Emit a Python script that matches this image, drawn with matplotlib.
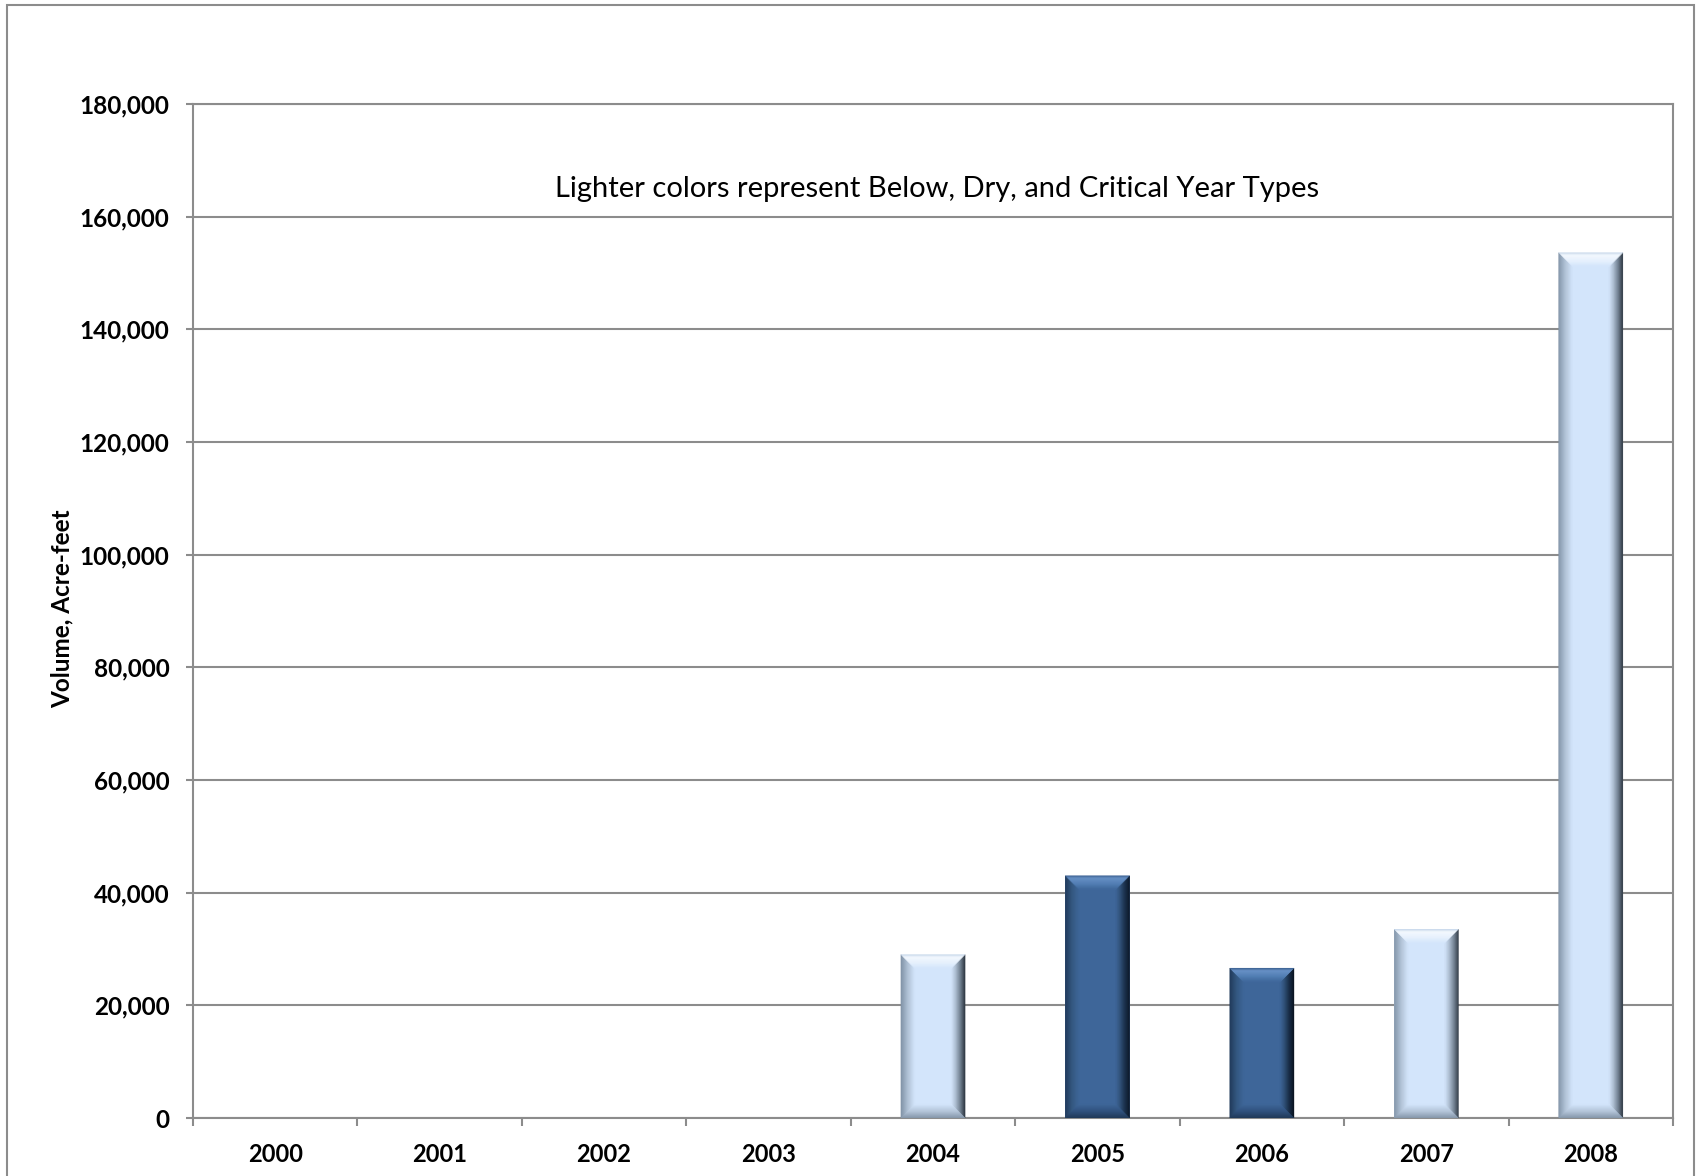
import matplotlib
matplotlib.use("Agg")
import matplotlib.pyplot as plt
from matplotlib.patches import Polygon, Rectangle
import numpy as np

years = ["2000", "2001", "2002", "2003", "2004", "2005", "2006", "2007", "2008"]
volumes = [0, 0, 0, 0, 29000, 43000, 26600, 33500, 153600]
dry_year = [True, True, True, True, True, False, False, True, True]
y_ticks = [0, 20000, 40000, 60000, 80000, 100000, 120000, 140000, 160000, 180000]
note_text = "Lighter colors represent Below, Dry, and Critical Year Types"
y_label = "Volume, Acre-feet"

# colour stops from outer edge (t=0) to inner edge (t=1) for each bevel side
LIGHT = dict(face="#D3E5FB",
             top=[(0, "#C2D3E7"), (0.2, "#F6FAFF"), (0.6, "#E8F2FE"), (1, "#D3E5FB")],
             bottom=[(0, "#8394A8"), (0.5, "#B4C5D9"), (1, "#D3E5FB")],
             left=[(0, "#7D8FA4"), (0.5, "#AFC0D4"), (1, "#D3E5FB")],
             right=[(0, "#252E38"), (0.35, "#6E7D8E"), (0.7, "#AEBFD2"), (1, "#D3E5FB")])
DARK = dict(face="#3E6699",
            top=[(0, "#3A5F8E"), (0.2, "#6A93C8"), (0.6, "#5380B6"), (1, "#3E6699")],
            bottom=[(0, "#1F3856"), (0.5, "#30527E"), (1, "#3E6699")],
            left=[(0, "#1F3756"), (0.5, "#33577F"), (1, "#3E6699")],
            right=[(0, "#08111D"), (0.35, "#182C45"), (0.7, "#2F5077"), (1, "#3E6699")])

plt.rcParams['font.family'] = ['Lato', 'DejaVu Sans']

fig = plt.figure(figsize=(17, 11.76), dpi=100)
W, H = 1700, 1176
ax = fig.add_axes([193 / W, 58 / H, (1673 - 193) / W, (1118 - 104) / H])

x = np.arange(len(years))
bars = ax.bar(x, volumes, width=0.39,
              color=[LIGHT["face"] if d else DARK["face"] for d in dry_year],
              edgecolor="none", zorder=3)

ax.set_xlim(-0.5, len(years) - 0.5)
ax.set_ylim(0, 180000)
ax.set_yticks(y_ticks)
ax.set_yticklabels([f"{v:,}" for v in y_ticks], fontsize=17.5, fontweight="bold")
ax.set_xticks(x)
ax.set_xticklabels(years, fontsize=17, fontweight="bold")
ax.set_xticks(np.arange(len(years) + 1) - 0.5, minor=True)
ax.tick_params(axis="x", which="major", length=0, pad=18)
ax.tick_params(axis="x", which="minor", length=6, width=1.5, color="#8C8C8C", direction="out")
ax.tick_params(axis="y", which="major", length=5, width=1.5, color="#8C8C8C", pad=12)
ax.yaxis.grid(True, color="#8C8C8C", linewidth=1.5, zorder=0)
ax.set_axisbelow(True)
for s in ax.spines.values():
    s.set_color("#8C8C8C")
    s.set_linewidth(1.5)

ax.set_ylabel(y_label, fontsize=17.5, fontweight="bold")
ax.yaxis.set_label_coords(-0.081, 0.502)

ax.text(0.5027, 0.916, note_text, transform=ax.transAxes, ha="center", va="center",
        fontsize=21)


def stop_color(stops, t):
    for (t0, c0), (t1, c1) in zip(stops[:-1], stops[1:]):
        if t0 <= t <= t1:
            a = np.array(matplotlib.colors.to_rgb(c0))
            b = np.array(matplotlib.colors.to_rgb(c1))
            f = 0 if t1 == t0 else (t - t0) / (t1 - t0)
            return tuple(a + (b - a) * f)
    return matplotlib.colors.to_rgb(stops[-1][1])


inv = ax.transData.inverted()
bev_px = 14
n = 14
for b, d in zip(bars, dry_year):
    h = b.get_height()
    if h <= 0:
        continue
    pal = LIGHT if d else DARK
    (X0, Y0) = ax.transData.transform((b.get_x(), 0))
    (X1, Y1) = ax.transData.transform((b.get_x() + b.get_width(), h))
    bp = min(bev_px, (Y1 - Y0) / 2)

    def P(px, py):
        return inv.transform((px, py))

    for i in range(n):
        t0, t1 = i / n, (i + 1) / n
        tm = (t0 + t1) / 2
        a0, a1 = bp * t0, bp * t1
        sides = {
            "left": [P(X0 + a0, Y0 + a0), P(X0 + a1, Y0 + a1), P(X0 + a1, Y1 - a1), P(X0 + a0, Y1 - a0)],
            "right": [P(X1 - a0, Y0 + a0), P(X1 - a1, Y0 + a1), P(X1 - a1, Y1 - a1), P(X1 - a0, Y1 - a0)],
            "bottom": [P(X0 + a0, Y0 + a0), P(X1 - a0, Y0 + a0), P(X1 - a1, Y0 + a1), P(X0 + a1, Y0 + a1)],
            "top": [P(X0 + a0, Y1 - a0), P(X1 - a0, Y1 - a0), P(X1 - a1, Y1 - a1), P(X0 + a1, Y1 - a1)],
        }
        for name, poly in sides.items():
            ax.add_patch(Polygon(poly, closed=True, facecolor=stop_color(pal[name], tm),
                                 edgecolor=stop_color(pal[name], tm), linewidth=0.3,
                                 zorder=4))

# outer chart frame
fig.patches.append(Rectangle((7 / W, -0.01), (1694 - 7) / W, (H - 5) / H + 0.01,
                             transform=fig.transFigure, fill=False,
                             edgecolor="#8C8C8C", linewidth=1.5))

fig.savefig("out.png", dpi=100)
